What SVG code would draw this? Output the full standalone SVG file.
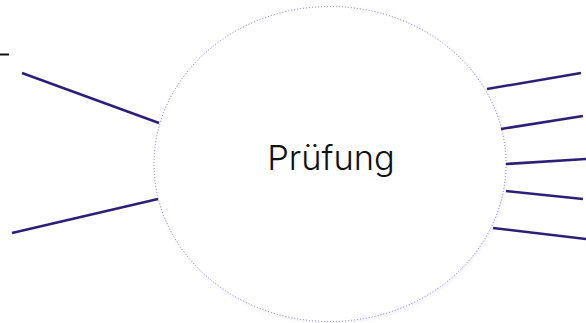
<svg xmlns="http://www.w3.org/2000/svg" width="586" height="323" viewBox="0 0 586 323">
  <defs>
    <filter id="soft" x="-10%" y="-10%" width="120%" height="120%">
      <feGaussianBlur in="SourceAlpha" stdDeviation="2"/>
      <feOffset dx="1" dy="1"/>
      <feComponentTransfer><feFuncA type="linear" slope="0.08"/></feComponentTransfer>
      <feMerge><feMergeNode/><feMergeNode in="SourceGraphic"/></feMerge>
    </filter>
  </defs>
  <style>
    .edge { stroke: #2d1f78; stroke-width: 2.5; fill: none; stroke-linecap: butt; }
    .mark { stroke: #111111; stroke-width: 2; }
    .proc { fill: #ffffff; stroke: #7a70c4; stroke-width: 1; stroke-dasharray: 1 2; }
    .label { font-family: Inter, "Noto Sans", sans-serif; font-size: 34.5px; font-weight: 300; fill: #111111; text-anchor: middle; }
  </style>
  <rect width="586" height="323" fill="#ffffff"/>

  <g id="process-pruefung">
    <ellipse class="proc" cx="330" cy="164" rx="176" ry="157.5" filter="url(#soft)"/>
    <text class="label" x="331" y="169.5">Prüfung</text>
  </g>

  <g id="connectors">
    <line class="mark" x1="0" y1="54.5" x2="9" y2="54.5"/>
    <line class="edge" x1="22" y1="73" x2="159" y2="123"/>
    <line class="edge" x1="12" y1="233" x2="158" y2="199"/>
    <line class="edge" x1="487" y1="89" x2="581" y2="73"/>
    <line class="edge" x1="501" y1="129" x2="583" y2="116"/>
    <line class="edge" x1="506" y1="164" x2="586" y2="159"/>
    <line class="edge" x1="506" y1="191" x2="583" y2="199"/>
    <line class="edge" x1="493" y1="228" x2="586" y2="239"/>
  </g>
</svg>
